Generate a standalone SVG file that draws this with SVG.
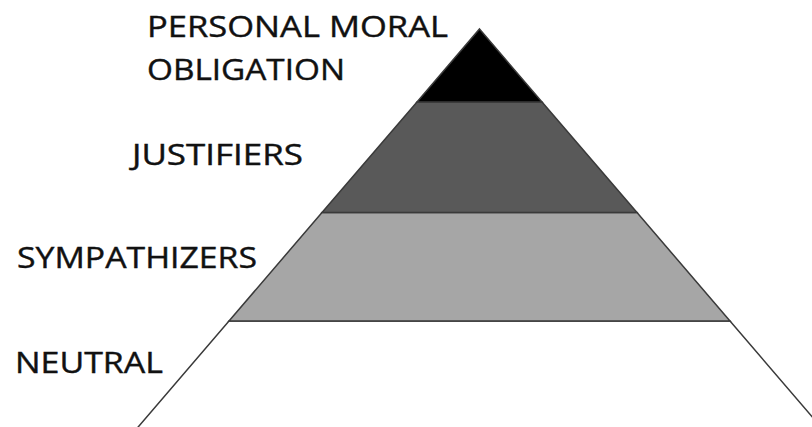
<svg xmlns="http://www.w3.org/2000/svg" width="812" height="427" viewBox="0 0 812 427">
<style>
.lbl{font-family:"Open Sans","Liberation Sans",sans-serif;font-size:29px;fill:#111;stroke:#111;stroke-width:0.4}
.band{stroke:#3a3a3a;stroke-width:1.5;stroke-linejoin:miter}
</style>
<rect width="812" height="427" fill="#ffffff"/>
<g id="neutral">
<polygon class="band" points="229,321 730,321 832,440 127,440" fill="#ffffff"/>
<text class="lbl" x="15" y="373" textLength="148" lengthAdjust="spacingAndGlyphs">NEUTRAL</text>
</g>
<g id="sympathizers">
<polygon class="band" points="322,212.5 637,212.5 730,321 229,321" fill="#a6a6a6"/>
<text class="lbl" x="17" y="268" textLength="240" lengthAdjust="spacingAndGlyphs">SYMPATHIZERS</text>
</g>
<g id="justifiers">
<polygon class="band" points="417,102 542,102 637,212.5 322,212.5" fill="#595959"/>
<text class="lbl" x="132" y="165" textLength="171" lengthAdjust="spacingAndGlyphs">JUSTIFIERS</text>
</g>
<g id="personal-moral-obligation">
<polygon class="band" points="479.5,29 542,102 417,102" fill="#000000"/>
<text class="lbl" x="147" y="37" textLength="301" lengthAdjust="spacingAndGlyphs">PERSONAL MORAL</text>
<text class="lbl" x="147" y="80" textLength="198" lengthAdjust="spacingAndGlyphs">OBLIGATION</text>
</g>
<g id="connectors"></g>
</svg>
